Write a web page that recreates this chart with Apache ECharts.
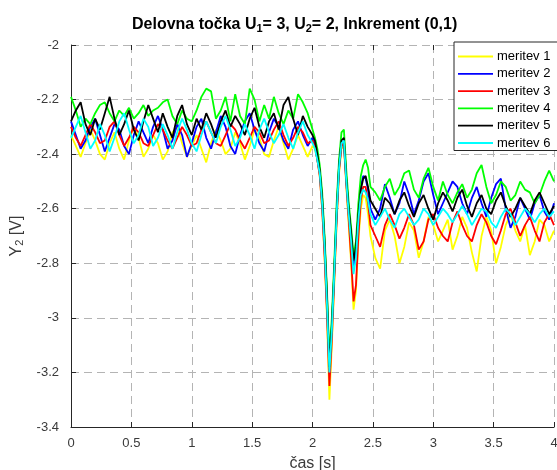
<!DOCTYPE html>
<html>
<head>
<meta charset="utf-8">
<script src="https://cdn.jsdelivr.net/npm/echarts@6/dist/echarts.min.js"></script>
<style>
  html, body { margin: 0; padding: 0; background: #fff; }
  #chart { width: 557px; height: 470px; }
</style>
</head>
<body>
<div id="chart"></div>
<script>
// Sample times [s]: 0.04 s steps, finer around the step response at 2 s
const time = [
  0, 0.04, 0.08, 0.12, 0.16, 0.2, 0.24, 0.28, 0.32, 0.36,
  0.4, 0.44, 0.48, 0.52, 0.56, 0.6, 0.64, 0.68, 0.72, 0.76,
  0.8, 0.84, 0.88, 0.92, 0.96, 1, 1.04, 1.08, 1.12, 1.16,
  1.2, 1.24, 1.28, 1.32, 1.36, 1.4, 1.44, 1.48, 1.52, 1.56,
  1.6, 1.64, 1.68, 1.72, 1.76, 1.8, 1.84, 1.88, 1.92, 1.96,
  2,
  2.02, 2.04, 2.06, 2.08, 2.1, 2.12, 2.14, 2.16, 2.18, 2.2,
  2.22, 2.24, 2.26, 2.28, 2.3, 2.32, 2.34, 2.36, 2.38, 2.4,
  2.42, 2.44, 2.46, 2.48,
  2.52, 2.56, 2.6, 2.64, 2.68, 2.72, 2.76, 2.8, 2.84, 2.88,
  2.92, 2.96, 3, 3.04, 3.08, 3.12, 3.16, 3.2, 3.24, 3.28,
  3.32, 3.36, 3.4, 3.44, 3.48, 3.52, 3.56, 3.6, 3.64, 3.68,
  3.72, 3.76, 3.8, 3.84, 3.88, 3.92, 3.96, 4
];

// Y2 [V] for the six measurements
const meritev1 = [
  -2.33, -2.37, -2.41, -2.36, -2.31, -2.35, -2.40, -2.42, -2.36, -2.32,
  -2.38, -2.42, -2.35, -2.30, -2.34, -2.41, -2.38, -2.33, -2.36, -2.42,
  -2.39, -2.32, -2.30, -2.36, -2.41, -2.37, -2.33, -2.38, -2.43, -2.36,
  -2.31, -2.35, -2.40, -2.38, -2.32, -2.36, -2.42, -2.37, -2.31, -2.34,
  -2.40, -2.41, -2.35, -2.30, -2.36, -2.42, -2.38, -2.33, -2.37, -2.41,
  -2.37,
  -2.38, -2.42, -2.48, -2.60, -2.78, -3.00, -3.30, -3.10, -2.88, -2.65,
  -2.47, -2.38, -2.37, -2.52, -2.66, -2.80, -2.97, -2.90, -2.72, -2.60,
  -2.55, -2.56, -2.62, -2.70,
  -2.78, -2.82, -2.68, -2.64, -2.70, -2.80, -2.74, -2.65, -2.68, -2.78,
  -2.72, -2.63, -2.66, -2.72, -2.68, -2.64, -2.75, -2.70, -2.63, -2.67,
  -2.76, -2.83, -2.70, -2.63, -2.68, -2.80, -2.74, -2.66, -2.62, -2.68,
  -2.72, -2.66, -2.77, -2.72, -2.64, -2.66, -2.72, -2.68
];
const meritev2 = [
  -2.28, -2.33, -2.38, -2.35, -2.30, -2.27, -2.33, -2.39, -2.34, -2.29,
  -2.31, -2.37, -2.40, -2.33, -2.28, -2.32, -2.36, -2.30, -2.26, -2.31,
  -2.38, -2.35, -2.29, -2.33, -2.41, -2.36, -2.30, -2.27, -2.34, -2.38,
  -2.32, -2.26, -2.30, -2.37, -2.40, -2.33, -2.28, -2.25, -2.31, -2.36,
  -2.39, -2.32, -2.27, -2.30, -2.35, -2.38, -2.31, -2.28, -2.33, -2.37,
  -2.34,
  -2.37, -2.42, -2.47, -2.58, -2.75, -2.96, -3.20, -3.04, -2.84, -2.62,
  -2.45, -2.37, -2.36, -2.50, -2.62, -2.72, -2.82, -2.76, -2.62, -2.52,
  -2.48, -2.49, -2.53, -2.60,
  -2.64, -2.60, -2.51, -2.56, -2.62, -2.58, -2.50, -2.55, -2.62, -2.57,
  -2.50, -2.47, -2.55, -2.62, -2.58, -2.54, -2.50, -2.52, -2.58, -2.62,
  -2.56, -2.52, -2.58, -2.63, -2.56, -2.51, -2.49, -2.60, -2.67, -2.63,
  -2.56, -2.60, -2.64, -2.58, -2.55, -2.61, -2.64, -2.58
];
const meritev3 = [
  -2.30, -2.34, -2.37, -2.33, -2.29, -2.32, -2.36, -2.35, -2.30, -2.28,
  -2.33, -2.37, -2.34, -2.30, -2.32, -2.36, -2.37, -2.33, -2.29, -2.31,
  -2.35, -2.38, -2.34, -2.30, -2.33, -2.37, -2.36, -2.31, -2.28, -2.32,
  -2.36, -2.37, -2.33, -2.29, -2.31, -2.35, -2.38, -2.34, -2.30, -2.32,
  -2.36, -2.35, -2.31, -2.28, -2.33, -2.37, -2.34, -2.30, -2.32, -2.36,
  -2.35,
  -2.37, -2.42, -2.48, -2.60, -2.77, -2.98, -3.25, -3.08, -2.86, -2.64,
  -2.46, -2.37, -2.36, -2.51, -2.64, -2.78, -2.94, -2.88, -2.70, -2.57,
  -2.52, -2.52, -2.58, -2.66,
  -2.70, -2.74, -2.66, -2.62, -2.66, -2.71, -2.67, -2.62, -2.66, -2.75,
  -2.72, -2.64, -2.62, -2.67, -2.70, -2.72, -2.65, -2.61, -2.66, -2.70,
  -2.72, -2.66, -2.62, -2.65, -2.70, -2.73, -2.68, -2.62, -2.60, -2.65,
  -2.70, -2.66, -2.63, -2.68, -2.72, -2.65, -2.62, -2.66
];
const meritev4 = [
  -2.19, -2.24, -2.30, -2.27, -2.29, -2.25, -2.22, -2.21, -2.25, -2.28,
  -2.24, -2.26, -2.23, -2.27, -2.25, -2.22, -2.26, -2.24, -2.23, -2.21,
  -2.20, -2.26, -2.29, -2.24, -2.27,
  -2.28, -2.24, -2.19, -2.16, -2.17, -2.27, -2.24, -2.19, -2.28, -2.18,
  -2.26, -2.29, -2.16, -2.20, -2.28, -2.22, -2.27, -2.19, -2.25, -2.29,
  -2.24, -2.27, -2.18, -2.21, -2.25, -2.31,
  -2.34, -2.38, -2.44, -2.54, -2.70, -2.90, -3.15, -3.00, -2.80, -2.58,
  -2.42, -2.32, -2.31, -2.46, -2.58, -2.67, -2.77, -2.72, -2.58, -2.48,
  -2.44, -2.42, -2.45, -2.52,
  -2.54, -2.57, -2.52, -2.49, -2.55, -2.52, -2.47, -2.46, -2.53, -2.56,
  -2.49, -2.45, -2.52, -2.57, -2.50, -2.55, -2.58, -2.54, -2.51, -2.56,
  -2.53, -2.47, -2.44, -2.52, -2.58, -2.55, -2.50, -2.52, -2.57, -2.55,
  -2.50, -2.53, -2.54, -2.58, -2.55, -2.50, -2.46, -2.50
];
const meritev5 = [
  -2.28, -2.24, -2.21, -2.29, -2.33, -2.27, -2.31, -2.25, -2.19, -2.27,
  -2.33, -2.29, -2.24, -2.31, -2.35, -2.28, -2.22, -2.27, -2.32, -2.25,
  -2.30, -2.34, -2.26, -2.22, -2.29, -2.33, -2.27, -2.31, -2.25, -2.29,
  -2.34, -2.28, -2.24, -2.30, -2.26, -2.29, -2.33, -2.27, -2.23, -2.30,
  -2.34, -2.28, -2.25, -2.31, -2.22, -2.19, -2.27, -2.33, -2.26, -2.30,
  -2.33,
  -2.35, -2.40, -2.46, -2.56, -2.72, -2.92, -3.18, -3.03, -2.83, -2.61,
  -2.44, -2.35, -2.34, -2.49, -2.60, -2.69, -2.79, -2.74, -2.62, -2.53,
  -2.49, -2.48, -2.52, -2.57,
  -2.60, -2.63, -2.56, -2.58, -2.62, -2.57, -2.54, -2.59, -2.63, -2.58,
  -2.55, -2.60, -2.64, -2.58, -2.54, -2.57, -2.61, -2.56, -2.53, -2.59,
  -2.63, -2.58, -2.55, -2.60, -2.62, -2.57, -2.54, -2.59, -2.63, -2.60,
  -2.56, -2.59, -2.62, -2.57, -2.54, -2.58, -2.62, -2.59
];
const meritev6 = [
  -2.34, -2.30, -2.26, -2.32, -2.38, -2.35, -2.29, -2.33, -2.39, -2.34,
  -2.28, -2.25, -2.31, -2.36, -2.33, -2.27, -2.30, -2.37, -2.34, -2.29,
  -2.33, -2.38, -2.32, -2.27, -2.31, -2.36, -2.39, -2.33, -2.28, -2.32,
  -2.36, -2.30, -2.26, -2.31, -2.37, -2.34, -2.29, -2.33, -2.38, -2.31,
  -2.27, -2.32, -2.36, -2.33, -2.29, -2.34, -2.38, -2.32, -2.28, -2.33,
  -2.36,
  -2.38, -2.42, -2.47, -2.58, -2.74, -2.95, -3.20, -3.05, -2.84, -2.62,
  -2.45, -2.36, -2.35, -2.50, -2.62, -2.72, -2.84, -2.78, -2.64, -2.55,
  -2.53, -2.54, -2.57, -2.62,
  -2.66, -2.63, -2.60, -2.64, -2.67, -2.62, -2.60, -2.63, -2.66, -2.64,
  -2.60, -2.62, -2.66, -2.63, -2.60, -2.62, -2.65, -2.62, -2.59, -2.62,
  -2.66, -2.63, -2.60, -2.61, -2.65, -2.67, -2.63, -2.60, -2.62, -2.66,
  -2.63, -2.60, -2.62, -2.65, -2.62, -2.60, -2.63, -2.61
];

const seriesNames = ['meritev 1', 'meritev 2', 'meritev 3', 'meritev 4', 'meritev 5', 'meritev 6'];
const seriesValues = [meritev1, meritev2, meritev3, meritev4, meritev5, meritev6];
const seriesColors = ['#ffff00', '#0000ff', '#ff0000', '#00ff00', '#000000', '#00ffff'];

const xTicks = { min: 0, max: 4, interval: 0.5 };
const yTicks = { min: -3.4, max: -2, interval: 0.2 };

const FONT = '"Liberation Sans", Arial, Helvetica, sans-serif';
const AXIS_COLOR = '#262626';
const LABEL_COLOR = '#3a3a3a';
const GRID_COLOR = '#b4b4b4';

const chart = echarts.init(document.getElementById('chart'), null, { renderer: 'canvas' });

const gridLine = { show: true, lineStyle: { color: GRID_COLOR, width: 1, type: [8, 5] } };

const option = {
  backgroundColor: '#ffffff',
  animation: false,
  textStyle: { fontFamily: FONT },
  title: {
    text: '{b|Delovna točka U}{s|1}{b|= 3, U}{s|2}{b|= 2, Inkrement (0,1)}',
    left: 127,
    top: 11,
    textStyle: {
      rich: {
        b: { fontFamily: FONT, fontSize: 16, fontWeight: 'bold', color: '#000', lineHeight: 18 },
        s: { fontFamily: FONT, fontSize: 11, fontWeight: 'bold', color: '#000', lineHeight: 6, verticalAlign: 'bottom' }
      }
    }
  },
  legend: {
    orient: 'vertical',
    left: 454,
    top: 42,
    padding: [8, 20, 1, 4],
    icon: 'rect',
    itemWidth: 35,
    itemHeight: 1.8,
    itemGap: 4.3,
    backgroundColor: '#ffffff',
    borderColor: AXIS_COLOR,
    borderWidth: 1,
    borderRadius: 0,
    textStyle: { fontFamily: FONT, fontSize: 13, lineHeight: 13, color: '#000', padding: [0, 0, 0, -1] },
    data: seriesNames
  },
  grid: {
    left: 71, right: 3, top: 45, bottom: 43,
    containLabel: false,
    outerBoundsMode: 'none'
  },
  xAxis: [{
    type: 'value',
    min: xTicks.min, max: xTicks.max, interval: xTicks.interval,
    name: 'čas [s]',
    nameLocation: 'middle',
    nameGap: 28.5,
    nameTextStyle: { fontFamily: FONT, fontSize: 16, color: LABEL_COLOR },
    axisLine: { show: true, onZero: false, lineStyle: { color: AXIS_COLOR, width: 1 } },
    axisTick: { show: true, inside: true, length: 5, lineStyle: { color: AXIS_COLOR } },
    axisLabel: { fontFamily: FONT, fontSize: 13, color: LABEL_COLOR, margin: 10 },
    splitLine: gridLine
  }, {
    // top edge: tick marks only
    type: 'value',
    position: 'top',
    min: xTicks.min, max: xTicks.max, interval: xTicks.interval,
    axisLine: { show: false },
    axisTick: { show: true, inside: true, length: 5, lineStyle: { color: AXIS_COLOR } },
    axisLabel: { show: false },
    splitLine: { show: false }
  }],
  yAxis: {
    type: 'value',
    min: yTicks.min, max: yTicks.max, interval: yTicks.interval,
    name: '{n|Y}{s|2}{n| [V]}',
    nameLocation: 'middle',
    nameGap: 29,
    nameTextStyle: {
      rich: {
        n: { fontFamily: FONT, fontSize: 16, color: LABEL_COLOR, lineHeight: 18 },
        s: { fontFamily: FONT, fontSize: 11, color: LABEL_COLOR, lineHeight: 8, verticalAlign: 'bottom' }
      }
    },
    axisLine: { show: true, onZero: false, lineStyle: { color: AXIS_COLOR, width: 1 } },
    axisTick: { show: true, inside: true, length: 5, lineStyle: { color: AXIS_COLOR } },
    axisLabel: { fontFamily: FONT, fontSize: 13, color: LABEL_COLOR, margin: 12 },
    splitLine: gridLine
  },
  series: seriesNames.map((name, k) => ({
    name: name,
    type: 'line',
    xAxisIndex: 0,
    symbol: 'none',
    smooth: false,
    clip: true,
    color: seriesColors[k],
    lineStyle: { color: seriesColors[k], width: 1.8 },
    data: time.map((t, i) => [t, seriesValues[k][i]])
  }))
};

chart.setOption(option);
</script>
</body>
</html>
